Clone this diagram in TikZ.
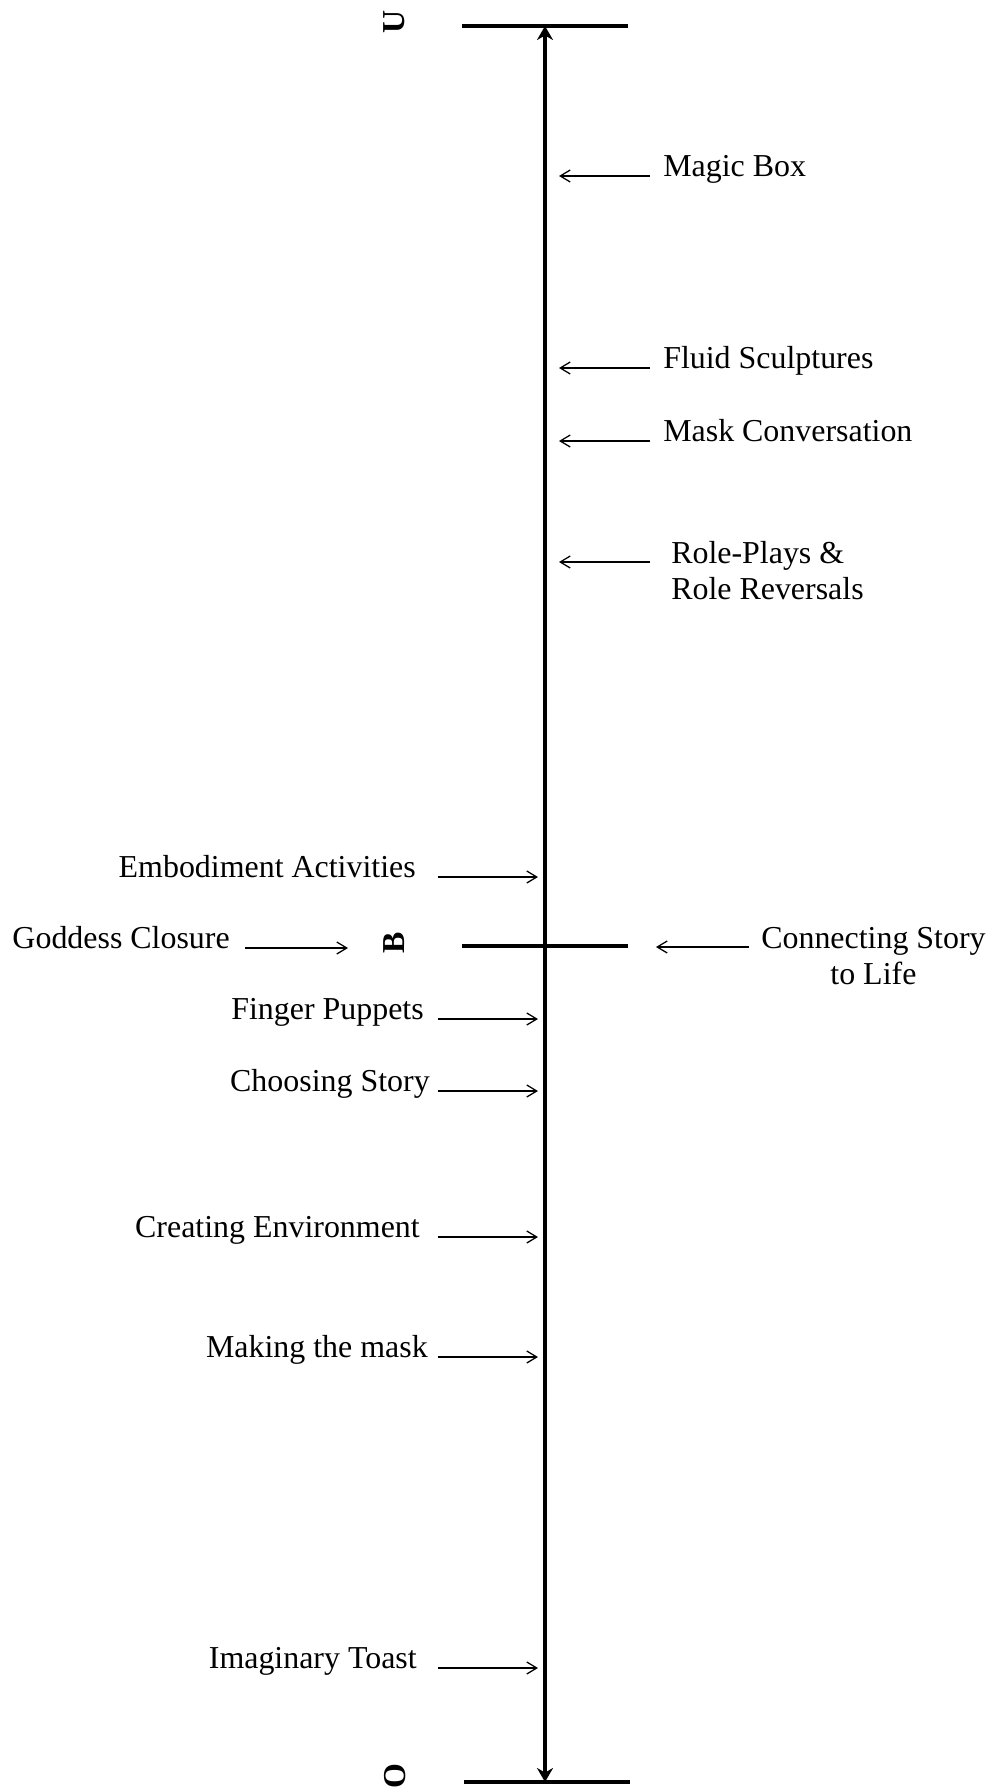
\documentclass[tikz,border=0pt]{standalone}
\usepackage{fontspec}
\setmainfont{Liberation Serif}
\usetikzlibrary{arrows.meta}
\tikzset{
  axisline/.style={line width=3.2pt, {Stealth[length=0.35cm,width=0.4cm]}-{Stealth[length=0.35cm,width=0.4cm]}},
  bar/.style={line width=2.9pt},
  act/.style={inner sep=0pt, font=\fontsize{22.7}{25.6}\selectfont},
  actarrow/.style={line width=0.9pt, -{Straight Barb[length=0.25cm,width=0.3cm]}},
  pole/.style={inner sep=0pt, rotate=90, font=\fontsize{22.7}{25.6}\selectfont\bfseries}
}
\begin{document}
\begin{tikzpicture}[x=0.025cm, y=-0.025cm]
    \useasboundingbox (0,0) rectangle (999,1788);
    % the scale: bars and the arrowed axis
    \coordinate (top) at (545,26);
    \coordinate (bot) at (545,1782);
    \coordinate (top-l) at (462,26);
    \coordinate (top-r) at (628,26);
    \coordinate (mid-l) at (462,946);
    \coordinate (mid-r) at (628,946);
    \coordinate (bot-l) at (464,1782);
    \coordinate (bot-r) at (630,1782);
    \draw (top-l)--(top-r) [bar];
    \draw (mid-l)--(mid-r) [bar];
    \draw (bot-l)--(bot-r) [bar];
    \draw (top)--(bot) [axisline];
    \node[pole] (pole-u) at (394,22) {U};
    \node[pole] (pole-b) at (394,943) {B};
    \node[pole] (pole-o) at (395,1776) {O};
    % arrow columns
    \coordinate (rcol) at (650,0);
    \coordinate (rtip) at (559,0);
    \coordinate (lcol) at (438,0);
    \coordinate (ltip) at (538,0);
    \coordinate (gcol) at (245,0);
    \coordinate (gtip) at (348,0);
    \coordinate (ccol) at (749,0);
    \coordinate (ctip) at (656,0);
    % right side
    \node[act, anchor=base west] (magic) at (663,176) {Magic Box};
    \node[act, anchor=base west] (fluid) at (663,368) {Fluid Sculptures};
    \node[act, anchor=base west] (maskconv) at (663,441) {Mask Conversation};
    \coordinate (roleplay-ln) at (671,562);
    \node[act, anchor=base west, align=left] (roleplay) at (671,599) {Role-Plays \&\\Role Reversals};
    \coordinate (connect-ln) at (761,947);
    \node[act, anchor=base west, align=center] (connect) at (761,984) {Connecting Story\\to Life};
    \draw (magic.base west -| rcol)--(magic.base west -| rtip) [actarrow];
    \draw (fluid.base west -| rcol)--(fluid.base west -| rtip) [actarrow];
    \draw (maskconv.base west -| rcol)--(maskconv.base west -| rtip) [actarrow];
    \draw (roleplay-ln -| rcol)--(roleplay-ln -| rtip) [actarrow];
    \draw (connect-ln -| ccol)--(connect-ln -| ctip) [actarrow];
    % left side
    \node[act, anchor=base east] (embody) at (416,877) {Embodiment Activities};
    \node[act, anchor=base east] (goddess) at (230,948) {Goddess Closure};
    \node[act, anchor=base east] (finger) at (424,1019) {Finger Puppets};
    \node[act, anchor=base east] (choosing) at (430,1091) {Choosing Story};
    \node[act, anchor=base east] (creating) at (420,1237) {Creating Environment};
    \node[act, anchor=base east] (making) at (428,1357) {Making the mask};
    \node[act, anchor=base east] (toast) at (417,1668) {Imaginary Toast};
    \draw (embody.base east -| lcol)--(embody.base east -| ltip) [actarrow];
    \draw (goddess.base east -| gcol)--(goddess.base east -| gtip) [actarrow];
    \draw (finger.base east -| lcol)--(finger.base east -| ltip) [actarrow];
    \draw (choosing.base east -| lcol)--(choosing.base east -| ltip) [actarrow];
    \draw (creating.base east -| lcol)--(creating.base east -| ltip) [actarrow];
    \draw (making.base east -| lcol)--(making.base east -| ltip) [actarrow];
    \draw (toast.base east -| lcol)--(toast.base east -| ltip) [actarrow];
\end{tikzpicture}
\end{document}
